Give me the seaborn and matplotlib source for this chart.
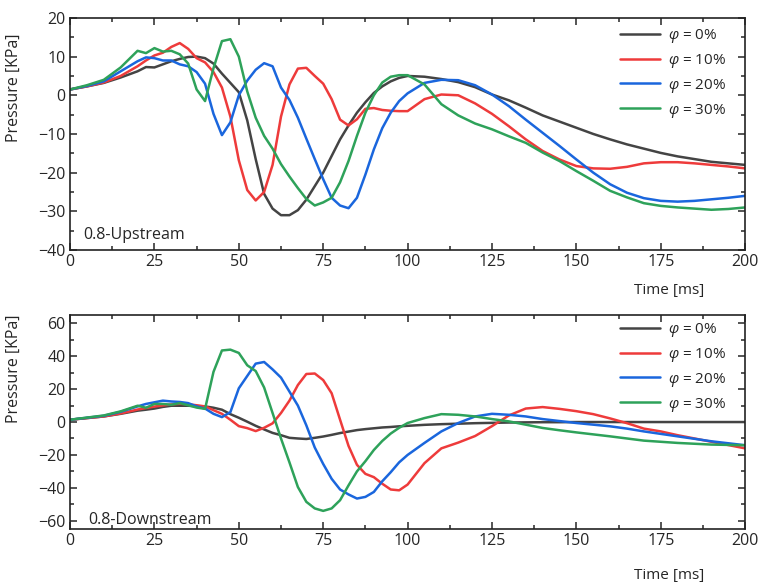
import pandas as pd
import matplotlib
matplotlib.use('Agg')
import matplotlib.pyplot as plt
from matplotlib.ticker import MultipleLocator
import seaborn as sns

# shared time grid [ms]
time_ms = [0, 5, 10, 15, 20, 22.5, 25, 27.5, 30, 32.5, 35, 37.5, 40, 42.5, 45, 47.5,
           50, 52.5, 55, 57.5, 60, 62.5, 65, 67.5, 70, 72.5, 75, 77.5, 80, 82.5, 85,
           87.5, 90, 92.5, 95, 97.5, 100, 105, 110, 115, 120, 125, 130, 135, 140, 145,
           150, 155, 160, 165, 170, 175, 180, 185, 190, 195, 200]

phi_labels = [r'$\varphi$ = 0%', r'$\varphi$ = 10%', r'$\varphi$ = 20%', r'$\varphi$ = 30%']
colors = ['#444444', '#ee3b3b', '#1a66dd', '#2ea25a']

# 0.8-Upstream pressure [KPa]
up_0 = [1.5, 2.3, 3.2, 4.6, 6.2, 7.3, 7.2, 8.0, 8.8, 9.4, 9.9, 10.0, 9.6, 8.2, 5.6, 3.2,
        0.8, -6.5, -16.5, -25.5, -29.3, -31.0, -31.0, -29.7, -27.0, -23.5, -20.0, -15.7,
        -11.4, -7.8, -4.5, -1.8, 0.6, 2.3, 3.6, 4.5, 5.0, 4.8, 4.2, 3.4, 2.1, 0.2, -1.3,
        -3.2, -5.2, -6.8, -8.4, -10.0, -11.4, -12.7, -13.8, -14.9, -15.8, -16.5, -17.2,
        -17.6, -18.0]
up_10 = [1.5, 2.3, 3.3, 5.0, 7.5, 9.0, 10.3, 11.0, 12.5, 13.5, 12.0, 9.6, 8.5, 6.0, 2.0,
         -5.5, -16.8, -24.5, -27.2, -25.0, -18.0, -5.5, 2.8, 6.9, 7.1, 5.0, 3.0, -1.0,
         -6.3, -7.8, -6.2, -3.5, -3.3, -3.8, -4.0, -4.1, -4.1, -1.0, 0.2, 0.0, -2.1,
         -4.8, -8.0, -11.4, -14.4, -16.6, -18.3, -18.9, -19.0, -18.5, -17.6, -17.3,
         -17.3, -17.6, -18.0, -18.4, -18.9]
up_20 = [1.5, 2.4, 3.6, 6.2, 8.8, 9.8, 9.6, 9.0, 9.0, 8.0, 7.5, 6.0, 3.0, -4.8, -10.3,
         -7.0, 0.0, 3.8, 6.6, 8.3, 7.5, 2.0, -1.2, -5.8, -11.2, -16.5, -21.7, -26.5,
         -28.5, -29.2, -26.5, -20.5, -14.0, -8.5, -4.5, -1.5, 0.5, 3.2, 4.0, 3.9, 2.6,
         0.2, -2.8, -6.3, -9.7, -13.1, -16.6, -20.0, -23.0, -25.2, -26.6, -27.3, -27.5,
         -27.3, -26.9, -26.5, -26.0]
up_30 = [1.5, 2.6, 4.0, 7.2, 11.5, 10.9, 12.2, 11.3, 11.5, 10.6, 8.2, 1.5, -1.5, 7.0,
         14.0, 14.5, 10.0, 1.0, -5.8, -10.5, -13.8, -17.8, -21.0, -24.0, -26.8, -28.5,
         -27.7, -26.5, -22.5, -17.0, -10.5, -4.5, 0.0, 3.3, 4.8, 5.2, 5.2, 2.8, -2.3,
         -5.2, -7.3, -8.8, -10.6, -12.3, -14.8, -17.0, -19.6, -22.1, -24.7, -26.4, -27.9,
         -28.6, -29.0, -29.3, -29.6, -29.4, -29.0]

# 0.8-Downstream pressure [KPa]
dn_0 = [1.4, 2.4, 3.4, 5.0, 6.9, 7.5, 8.2, 9.2, 9.9, 9.9, 9.9, 9.7, 9.5, 8.7, 7.5, 4.8,
        2.6, 0.2, -2.3, -4.5, -6.6, -8.0, -9.6, -10.0, -10.3, -9.6, -8.8, -7.8, -6.7,
        -5.8, -4.9, -4.3, -3.8, -3.3, -3.0, -2.6, -2.3, -1.7, -1.3, -1.0, -0.7, -0.5,
        -0.3, -0.2, -0.1, -0.1, 0.0, 0.0, 0.0, 0.0, 0.0, 0.0, 0.0, 0.0, 0.0, 0.0, 0.0]
dn_10 = [1.4, 2.4, 3.4, 5.2, 7.6, 8.5, 9.4, 10.1, 10.7, 11.1, 10.8, 10.2, 9.5, 7.2, 5.0,
         1.4, -2.5, -3.7, -5.5, -3.5, -0.8, 5.5, 13.0, 22.5, 29.2, 29.5, 25.5, 17.5, 1.4,
         -14.5, -26.0, -31.5, -33.5, -37.5, -41.0, -41.5, -38.0, -25.0, -16.0, -12.5,
         -8.5, -2.5, 4.0, 8.2, 9.1, 8.0, 6.6, 4.8, 2.2, -0.7, -4.0, -5.7, -8.0, -10.0,
         -12.0, -14.0, -16.0]
dn_20 = [1.4, 2.6, 3.8, 6.2, 9.5, 11.0, 12.0, 13.0, 12.5, 12.2, 11.5, 9.5, 8.2, 5.0, 3.0,
         6.0, 20.5, 28.0, 35.5, 36.5, 32.0, 27.0, 18.5, 10.0, -2.0, -15.5, -25.5, -34.5,
         -41.0, -44.0, -46.5, -45.5, -42.5, -36.0, -30.5, -24.5, -20.0, -12.7, -5.7,
         -0.6, 3.4, 5.0, 4.4, 3.4, 1.8, 0.6, -0.6, -1.6, -2.6, -4.0, -5.7, -7.2, -8.7,
         -10.2, -11.7, -12.9, -14.1]
dn_30 = [1.4, 2.7, 4.0, 6.5, 9.9, 8.7, 11.0, 11.0, 10.5, 11.5, 10.2, 8.8, 8.0, 30.5, 43.5,
         44.0, 42.0, 34.5, 31.0, 21.0, 5.5, -10.0, -24.5, -39.5, -48.5, -52.5, -54.0,
         -52.5, -47.5, -38.5, -30.0, -23.8, -17.0, -11.5, -7.0, -3.5, -0.6, 2.4, 4.8,
         4.4, 3.4, 1.8, 0.4, -1.6, -3.6, -5.0, -6.3, -7.5, -8.7, -10.0, -11.3, -12.0,
         -12.7, -13.2, -13.7, -13.9, -14.1]


def long_frame(series):
    parts = []
    for lab, vals in zip(phi_labels, series):
        parts.append(pd.DataFrame({'Time': time_ms, 'Pressure': vals, 'phi': lab}))
    return pd.concat(parts, ignore_index=True)


df_up = long_frame([up_0, up_10, up_20, up_30])
df_dn = long_frame([dn_0, dn_10, dn_20, dn_30])

sns.set_style('ticks')
plt.rcParams['font.family'] = ['Open Sans', 'DejaVu Sans']
plt.rcParams['mathtext.fontset'] = 'custom'
plt.rcParams['mathtext.it'] = 'Open Sans:italic'
plt.rcParams['mathtext.rm'] = 'Open Sans'

fig = plt.figure(figsize=(7.62, 5.86), dpi=100)
ax1 = fig.add_axes([0.0919, 0.5734, 0.886, 0.396])
ax2 = fig.add_axes([0.0919, 0.0973, 0.886, 0.365])

panels = [
    (ax1, df_up, (-40, 20), 10, 5, '0.8-Upstream', (0.019, 0.065), 0.961, 0.70, -0.142),
    (ax2, df_dn, (-65, 65), 20, 10, '0.8-Downstream', (0.027, 0.042), 0.972, 0.75, -0.182),
]

for ax, df, ylim, ymaj, ymin, tag, tagpos, leg_y, ylab_y, xlab_y in panels:
    sns.lineplot(data=df, x='Time', y='Pressure', hue='phi', palette=colors,
                 estimator=None, sort=False, linewidth=1.8, ax=ax)
    ax.set_xlim(0, 200)
    ax.set_ylim(*ylim)
    ax.xaxis.set_major_locator(MultipleLocator(25))
    ax.xaxis.set_minor_locator(MultipleLocator(12.5))
    ax.yaxis.set_major_locator(MultipleLocator(ymaj))
    ax.yaxis.set_minor_locator(MultipleLocator(ymin))
    ax.tick_params(which='both', direction='in', top=True, right=True,
                   labelsize=11.5, width=1.1, pad=3)
    ax.tick_params(which='major', length=5)
    ax.tick_params(which='minor', length=3)
    for sp in ax.spines.values():
        sp.set_linewidth(1.2)
        sp.set_color('#222222')

    ax.set_xlabel('Time [ms]', fontsize=11)
    ax.xaxis.set_label_coords(0.887, xlab_y)
    ax.set_ylabel('Pressure [KPa]', fontsize=11.5)
    ax.yaxis.set_label_coords(-0.071, ylab_y)

    ax.text(tagpos[0], tagpos[1], tag, transform=ax.transAxes, fontsize=11.5,
            ha='left', va='center')

    handles, labels = ax.get_legend_handles_labels()
    ax.legend(handles, labels, loc='upper left', bbox_to_anchor=(0.815, leg_y),
              frameon=False, fontsize=11, handlelength=2.6, handletextpad=0.5,
              labelspacing=0.45, borderpad=0, borderaxespad=0)

fig.savefig('out.png', dpi=100)
